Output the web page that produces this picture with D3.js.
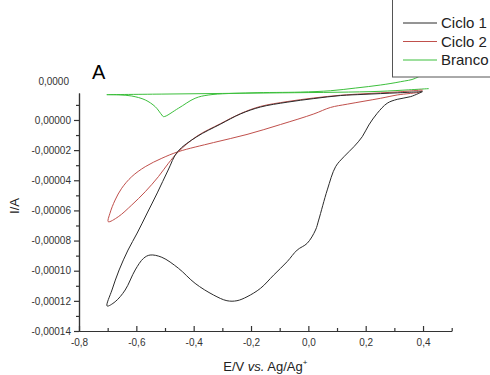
<!DOCTYPE html>
<html>
  <head>
    <meta http-equiv="Content-Type" content="text/html;charset=utf-8"/>
    <title>Voltametria ciclica</title>
    <script src="https://cdn.jsdelivr.net/npm/d3@7/dist/d3.min.js"></script>
    <style>
      body { margin: 0; background: #fff; }
      svg { font-family: "Liberation Sans", Arial, sans-serif; }
    </style>
  </head>
  <body>
    <svg id="target"></svg>
  </body>
  <script>
    // [E (V), I (A)], in scan order
    var ciclo1 = [
      [0.398, 1.88e-5], [0.31, 1.80e-5], [0.194, 1.70e-5], [0.112, 1.62e-5], [0.019, 1.42e-5],
      [-0.074, 1.18e-5], [-0.167, 0.86e-5], [-0.237, 0.40e-5], [-0.307, -0.28e-5], [-0.389, -1.11e-5],
      [-0.456, -2.10e-5], [-0.489, -3.32e-5], [-0.527, -4.84e-5], [-0.562, -6.17e-5], [-0.597, -7.50e-5],
      [-0.629, -8.63e-5], [-0.660, -9.95e-5], [-0.685, -11.28e-5], [-0.702, -12.34e-5],
      [-0.674, -12.06e-5], [-0.639, -11.28e-5], [-0.604, -9.95e-5], [-0.575, -9.18e-5], [-0.552, -8.96e-5],
      [-0.511, -9.11e-5], [-0.453, -9.84e-5], [-0.395, -10.84e-5], [-0.331, -11.61e-5], [-0.284, -11.99e-5],
      [-0.249, -11.99e-5], [-0.214, -11.73e-5], [-0.167, -11.17e-5], [-0.121, -10.29e-5], [-0.074, -9.40e-5],
      [-0.039, -8.63e-5], [-0.004, -8.18e-5], [0.025, -7.30e-5], [0.036, -6.64e-5], [0.066, -4.64e-5],
      [0.095, -3.10e-5], [0.124, -2.44e-5], [0.159, -1.77e-5], [0.188, -1.11e-5], [0.211, -0.33e-5],
      [0.240, 0.44e-5], [0.275, 1.11e-5], [0.310, 1.37e-5], [0.357, 1.55e-5], [0.398, 1.88e-5]
    ];
    var ciclo2 = [
      [0.398, 1.99e-5], [0.31, 1.86e-5], [0.194, 1.74e-5], [0.112, 1.64e-5], [0.019, 1.46e-5],
      [-0.074, 1.22e-5], [-0.167, 0.90e-5], [-0.237, 0.42e-5], [-0.307, -0.25e-5], [-0.389, -1.08e-5],
      [-0.453, -2.10e-5], [-0.488, -2.87e-5], [-0.523, -3.76e-5], [-0.569, -4.76e-5], [-0.616, -5.64e-5],
      [-0.663, -6.42e-5], [-0.698, -6.75e-5],
      [-0.692, -6.19e-5], [-0.674, -5.31e-5], [-0.651, -4.53e-5], [-0.616, -3.76e-5], [-0.569, -3.10e-5],
      [-0.511, -2.54e-5], [-0.453, -2.10e-5], [-0.331, -1.50e-5], [-0.214, -0.96e-5], [-0.097, -0.30e-5],
      [0.019, 0.40e-5], [0.077, 0.83e-5], [0.136, 1.05e-5], [0.252, 1.44e-5], [0.310, 1.66e-5],
      [0.392, 1.88e-5], [0.398, 1.99e-5]
    ];
    // the turning point of the blank scan is hidden behind the legend (null = gap)
    var branco = [
      [-0.703, 1.68e-5], [-0.5, 1.72e-5], [-0.3, 1.76e-5], [-0.1, 1.80e-5], [0.1, 1.84e-5],
      [0.25, 1.90e-5], [0.35, 2.00e-5], [0.42, 2.08e-5], null,
      [0.46, 4.60e-5], [0.42, 3.40e-5],
      [0.374, 2.77e-5], [0.322, 2.54e-5], [0.252, 2.32e-5], [0.165, 2.12e-5], [0.077, 1.94e-5],
      [-0.028, 1.85e-5], [-0.2, 1.80e-5], [-0.347, 1.66e-5], [-0.395, 1.44e-5], [-0.453, 0.78e-5],
      [-0.505, 0.22e-5], [-0.511, 0.33e-5], [-0.534, 0.88e-5], [-0.569, 1.33e-5], [-0.616, 1.59e-5],
      [-0.657, 1.66e-5], [-0.703, 1.68e-5]
    ];
    var seriesNames = [ "Ciclo 1", "Ciclo 2", "Branco" ];
    var seriesColors = [ "#2b2b2b", "#c0504c", "#3cbf3c" ];
    var xTicks = [ -0.8, -0.6, -0.4, -0.2, 0.0, 0.2, 0.4 ];
    var xMinorTicks = [ -0.7, -0.5, -0.3, -0.1, 0.1, 0.3, 0.5 ];
    var yTicks = [ -14e-5, -12e-5, -10e-5, -8e-5, -6e-5, -4e-5, -2e-5, 0 ];
    var yMinorTicks = [ -13e-5, -11e-5, -9e-5, -7e-5, -5e-5, -3e-5, -1e-5, 1e-5 ];
    var topLabel = "0,0000";

    var width = 490;
    var height = 375;
    var svg = d3.select( "#target" ).attr( "width", width ).attr( "height", height );

    var plotLeft = 79, plotRight = 451.7, plotTop = 93, plotBottom = 331;
    var xScale = d3.scaleLinear().domain( [ -0.8, 0.5 ] ).range( [ plotLeft, plotRight ] );
    var yScale = d3.scaleLinear().domain( [ -14e-5, 1.79e-5 ] ).range( [ plotBottom, plotTop ] );

    var locale = d3.formatLocale( { decimal: ",", thousands: ".", grouping: [3], currency: [ "", "" ], minus: "-" } );
    var fx = locale.format( ".1f" );
    var fy = locale.format( ".5f" );

    // curves
    var line = d3.line()
      .defined( d => d != null )
      .x( d => xScale( d[0] ) )
      .y( d => yScale( d[1] ) )
      .curve( d3.curveCatmullRom.alpha( 0.5 ) );

    [ branco, ciclo2, ciclo1 ].forEach( function ( data, i ) {
      svg.append( "path" )
        .attr( "d", line( data ) )
        .attr( "fill", "none" )
        .attr( "stroke", seriesColors[ 2 - i ] )
        .attr( "stroke-width", 1 );
    } );

    // axes
    var axisX = d3.axisBottom( xScale ).tickValues( xTicks ).tickFormat( fx ).tickSizeInner( -5 ).tickSizeOuter( 0 ).tickPadding( 8 );
    var axisXMinor = d3.axisBottom( xScale ).tickValues( xMinorTicks ).tickFormat( "" ).tickSizeInner( -3 ).tickSizeOuter( 0 );
    var axisY = d3.axisLeft( yScale ).tickValues( yTicks ).tickFormat( d => fy( d ) ).tickSizeInner( 5 ).tickSizeOuter( 0 ).tickPadding( 3 );
    var axisYMinor = d3.axisLeft( yScale ).tickValues( yMinorTicks ).tickFormat( "" ).tickSizeInner( 3 ).tickSizeOuter( 0 );

    [ [ axisX, "x" ], [ axisXMinor, "x" ], [ axisY, "y" ], [ axisYMinor, "y" ] ].forEach( function ( a ) {
      var g = svg.append( "g" )
        .attr( "transform", a[1] == "x" ? "translate(0," + plotBottom + ")" : "translate(" + plotLeft + ",0)" )
        .call( a[0] );
      g.selectAll( ".domain, line" ).attr( "stroke", "#333" ).attr( "stroke-width", 1.2 );
      g.selectAll( "text" ).attr( "fill", "#333" ).attr( "font-size", 10 ).attr( "font-family", "Liberation Sans, Arial, sans-serif" );
    } );

    svg.append( "text" )
      .attr( "x", plotLeft - 10 ).attr( "y", yScale( 2e-5 ) - 8 )
      .attr( "dy", "0.32em" ).attr( "text-anchor", "end" )
      .attr( "font-size", 10 ).attr( "fill", "#333" )
      .text( topLabel );

    // axis titles
    var xt = svg.append( "text" )
      .attr( "x", ( plotLeft + plotRight ) / 2 ).attr( "y", 371 )
      .attr( "text-anchor", "middle" ).attr( "font-size", 13 ).attr( "fill", "#222" );
    xt.append( "tspan" ).text( "E/V " );
    xt.append( "tspan" ).attr( "font-style", "italic" ).text( "vs." );
    xt.append( "tspan" ).text( " Ag/Ag" );
    xt.append( "tspan" ).attr( "font-size", 8 ).attr( "dy", -6 ).text( "+" );

    svg.append( "text" )
      .attr( "transform", "translate(19,206) rotate(-90)" )
      .attr( "text-anchor", "middle" ).attr( "font-size", 13 ).attr( "fill", "#222" )
      .text( "I/A" );

    svg.append( "text" )
      .attr( "x", 92 ).attr( "y", 79 )
      .attr( "font-size", 20 ).attr( "fill", "#000" )
      .text( "A" );

    // legend
    var legend = svg.append( "g" );
    legend.append( "rect" )
      .attr( "x", 392.5 ).attr( "y", -5 ).attr( "width", 120 ).attr( "height", 82 )
      .attr( "fill", "#fff" ).attr( "stroke", "#555" ).attr( "stroke-width", 1 );
    seriesNames.forEach( function ( name, i ) {
      var y = 23 + i * 18.5;
      legend.append( "line" )
        .attr( "x1", 403 ).attr( "x2", 437 ).attr( "y1", y ).attr( "y2", y )
        .attr( "stroke", seriesColors[i] ).attr( "stroke-width", 1 );
      legend.append( "text" )
        .attr( "x", 441 ).attr( "y", y ).attr( "dy", "0.35em" )
        .attr( "font-size", 15 ).attr( "fill", "#222" )
        .text( name );
    } );
  </script>
</html>
